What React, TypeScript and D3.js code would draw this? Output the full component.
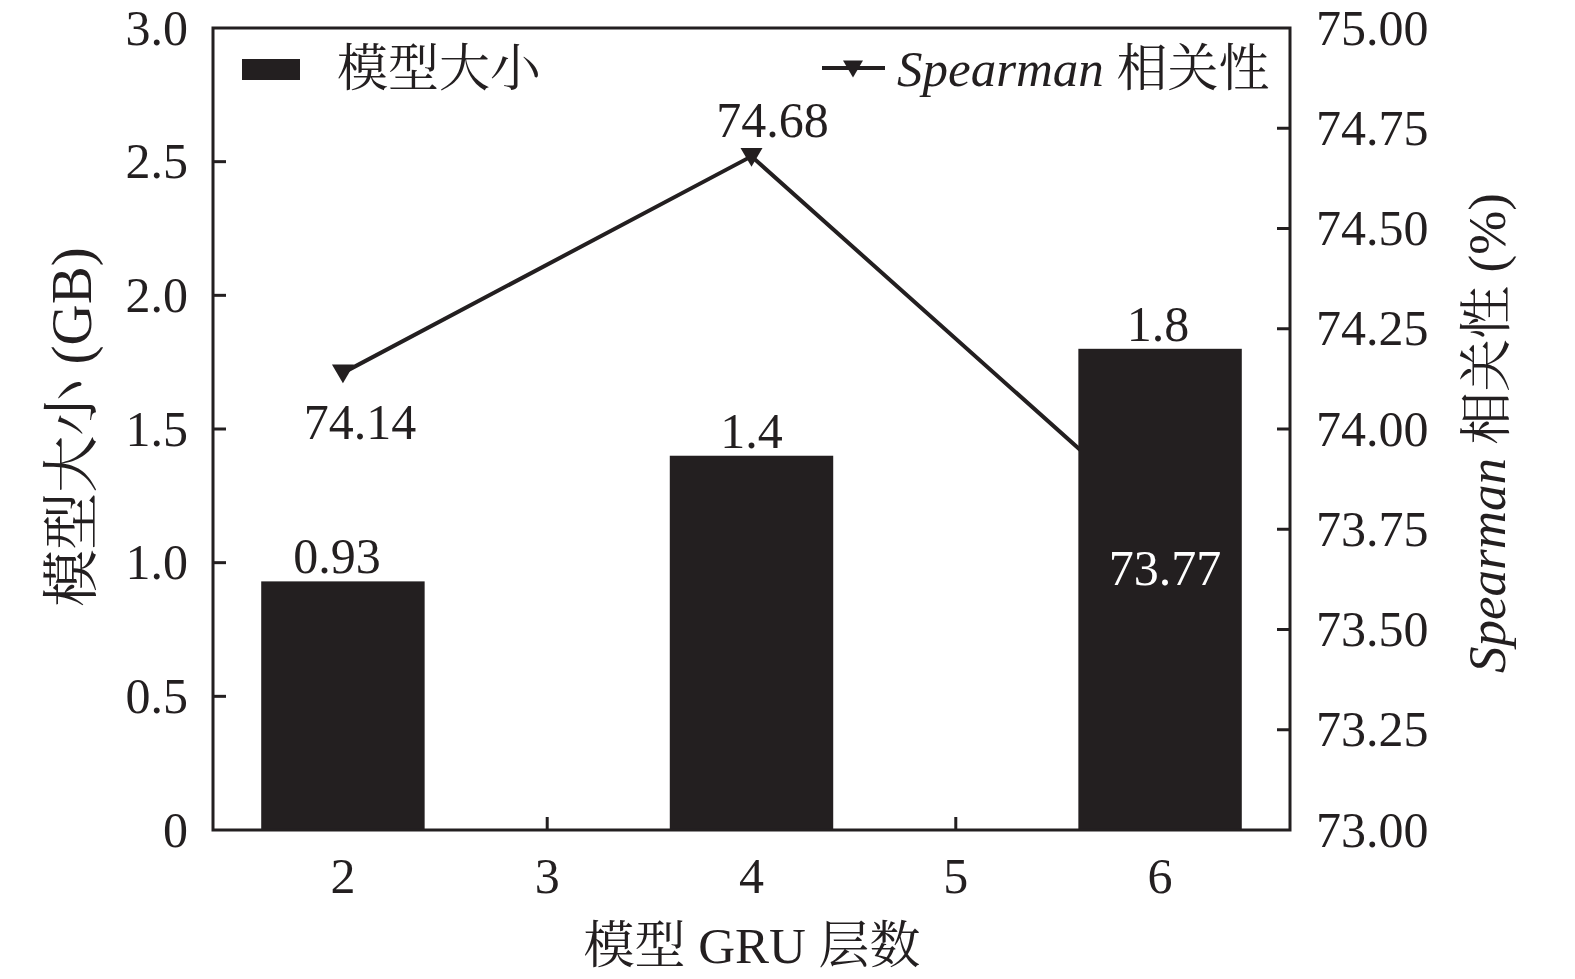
import React from "react";
import * as d3 from "d3";

const layers = [2, 4, 6];
const xTicks = [2, 3, 4, 5, 6];
const modelSize = [0.93, 1.4, 1.8];
const sizeLabels = ["0.93", "1.4", "1.8"];
const spearman = [74.14, 74.68, 73.77];
const spearmanLabels = ["74.14", "74.68", "73.77"];
const leftTicks = [0, 0.5, 1.0, 1.5, 2.0, 2.5, 3.0];
const rightTicks = [73.0, 73.25, 73.5, 73.75, 74.0, 74.25, 74.5, 74.75, 75.0];

const W = 1575;
const H = 979;
const left = 213;
const right = 1290;
const top = 28;
const bottom = 830;
const INK = "#231f20";
const SERIF = "'Liberation Serif', 'Times New Roman', 'Noto Serif CJK SC', 'Noto Sans CJK SC', serif";
const NUM = 50;
const HALF = 16.5; // half digit height: baseline offset to centre digits

export default function App() {
  const x = d3.scaleLinear().domain([1.364, 6.636]).range([left, right]);
  const yL = d3.scaleLinear().domain([0, 3]).range([bottom, top]);
  const yR = d3.scaleLinear().domain([73, 75]).range([bottom, top]);
  const barW = x(2.8) - x(2);
  const lineGen = d3
    .line<number>()
    .x((_, i) => x(layers[i]))
    .y((d) => yR(d));
  const tri = (cx: number, cy: number, s = 11) =>
    `M${cx - s},${cy - s * 0.75} L${cx + s},${cy - s * 0.75} L${cx},${cy + s * 0.95} Z`;
  const tickLen = 13;

  const lineLabelDy = [50, -36, 47];
  const lineLabelDx = [17, 21, 5];
  const barLabelDx = [-6, 0, -2];

  return (
    <svg
      width={W}
      height={H}
      style={{ position: "absolute", left: 0, top: 0, background: "#fff" }}
      fontFamily={SERIF}
    >
      {/* line behind bars */}
      <path d={lineGen(spearman) || ""} fill="none" stroke={INK} strokeWidth={4} />
      {spearman.map((v, i) =>
        i < 2 ? <path key={"m" + i} d={tri(x(layers[i]), yR(v))} fill={INK} /> : null
      )}

      {/* bars */}
      {modelSize.map((v, i) => (
        <rect
          key={"b" + i}
          x={x(layers[i]) - barW / 2}
          y={yL(v)}
          width={barW}
          height={bottom - yL(v)}
          fill={INK}
        />
      ))}

      {/* bar value labels */}
      {modelSize.map((v, i) => (
        <text
          key={"bl" + i}
          x={x(layers[i]) + barLabelDx[i]}
          y={yL(v) - 8}
          textAnchor="middle"
          fontSize={NUM}
          fill={INK}
        >
          {sizeLabels[i]}
        </text>
      ))}

      {/* line value labels */}
      {spearman.map((v, i) => (
        <text
          key={"ll" + i}
          x={x(layers[i]) + lineLabelDx[i]}
          y={yR(v) + lineLabelDy[i] + HALF}
          textAnchor="middle"
          fontSize={NUM}
          fill={i === 2 ? "#fff" : INK}
        >
          {spearmanLabels[i]}
        </text>
      ))}

      {/* frame */}
      <rect x={left} y={top} width={right - left} height={bottom - top} fill="none" stroke={INK} strokeWidth={3} />

      {/* left ticks */}
      {leftTicks.map((t) => (
        <g key={"lt" + t}>
          {t > 0 && t < 3 ? (
            <line x1={left} x2={left + tickLen} y1={yL(t)} y2={yL(t)} stroke={INK} strokeWidth={3} />
          ) : null}
          <text x={188} y={yL(t) + HALF} textAnchor="end" fontSize={NUM} fill={INK}>
            {t === 0 ? "0" : t.toFixed(1)}
          </text>
        </g>
      ))}

      {/* right ticks */}
      {rightTicks.map((t) => (
        <g key={"rt" + t}>
          {t > 73 && t < 75 ? (
            <line x1={right} x2={right - tickLen} y1={yR(t)} y2={yR(t)} stroke={INK} strokeWidth={3} />
          ) : null}
          <text x={1316} y={yR(t) + HALF} fontSize={NUM} fill={INK}>
            {t.toFixed(2)}
          </text>
        </g>
      ))}

      {/* bottom ticks */}
      {xTicks.map((t) => (
        <g key={"xt" + t}>
          {t === 3 || t === 5 ? (
            <line x1={x(t)} x2={x(t)} y1={bottom} y2={bottom - tickLen} stroke={INK} strokeWidth={3} />
          ) : null}
          <text x={x(t)} y={876 + HALF} textAnchor="middle" fontSize={NUM} fill={INK}>
            {t}
          </text>
        </g>
      ))}

      {/* axis titles */}
      <text x={752} y={963} textAnchor="middle" fontSize={51} fill={INK}>
        模型 GRU 层数
      </text>
      <text
        transform={`translate(78,427) rotate(-90)`}
        textAnchor="middle"
        dominantBaseline="middle"
        fontSize={57}
        fill={INK}
      >
        模型大小 (GB)
      </text>
      <text
        transform={`translate(1493,433) rotate(-90)`}
        textAnchor="middle"
        dominantBaseline="middle"
        fontSize={53}
        fill={INK}
      >
        <tspan fontStyle="italic">Spearman</tspan> 相关性 (%)
      </text>

      {/* legend */}
      <rect x={242} y={59} width={58} height={21} fill={INK} />
      <text x={337} y={74} dominantBaseline="middle" fontSize={51} fill={INK}>
        模型大小
      </text>
      <line x1={822} x2={885} y1={68} y2={68} stroke={INK} strokeWidth={4} />
      <path d={tri(853, 68, 10)} fill={INK} />
      <text x={897} y={74} dominantBaseline="middle" fontSize={51} fill={INK}>
        <tspan fontStyle="italic">Spearman</tspan> 相关性
      </text>
    </svg>
  );
}
